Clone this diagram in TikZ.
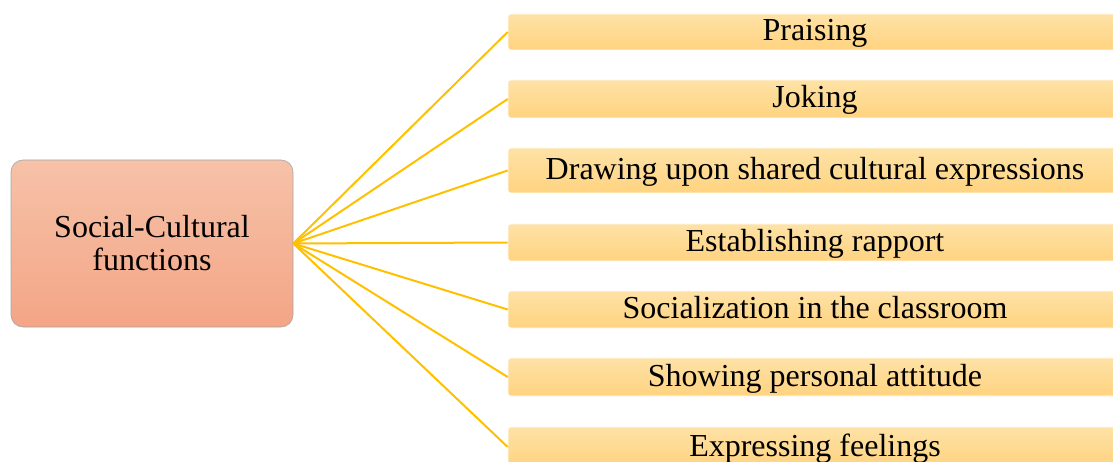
\documentclass[tikz,border=0pt]{standalone}
\usepackage{fontspec}
\setmainfont{Liberation Serif}
\usetikzlibrary{positioning}
\definecolor{goldline}{RGB}{255,192,0}
\definecolor{fntop}{RGB}{254,226,166}
\definecolor{fnbot}{RGB}{255,211,128}
\definecolor{sctop}{RGB}{246,194,168}
\definecolor{scbot}{RGB}{244,165,134}

\begin{document}
\begin{tikzpicture}
		[x=1pt,y=1pt,
		scnode/.style={rectangle,rounded corners=12pt,draw=black!35,line width=0.6pt,top color=sctop,bottom color=scbot,minimum width=282pt,minimum height=167pt,text width=260pt,align=center,inner sep=0pt,font=\fontsize{32}{33}\selectfont},
		fnode/.style={rectangle,rounded corners=3pt,draw=white!90!fntop,line width=0.6pt,top color=fntop,bottom color=fnbot,minimum width=614pt,minimum height=#1,inner sep=0pt,text height=23pt,text depth=5pt,font=\fontsize{32}{33}\selectfont},
		]
		\tikzset{gold line/.style={draw=goldline,line width=2pt}}
		\useasboundingbox (0,0) rectangle (1113,-462);
		\clip (0,0) rectangle (1113,-462);
		
		\node[scnode] (sc) at (152,-243.5) {Social-Cultural\\functions};
		
		\node[fnode=36pt] (fn-1) at (815,-32) {Praising};
		\node[fnode=38pt] (fn-2) at (815,-99) {Joking};
		\node[fnode=45pt] (fn-3) at (815,-170.5) {Drawing upon shared cultural expressions};
		\node[fnode=37pt] (fn-4) at (815,-242.5) {Establishing rapport};
		\node[fnode=37pt] (fn-5) at (815,-309.5) {Socialization in the classroom};
		\node[fnode=38pt] (fn-6) at (815,-377) {Showing personal attitude};
		\node[fnode=40pt] (fn-7) at (815,-447) {Expressing feelings};
		
		\foreach \x in {1,...,7}
		{
			\path[gold line] (sc.east) -- (fn-\x.west);
		}
		\end{tikzpicture}
\end{document}
